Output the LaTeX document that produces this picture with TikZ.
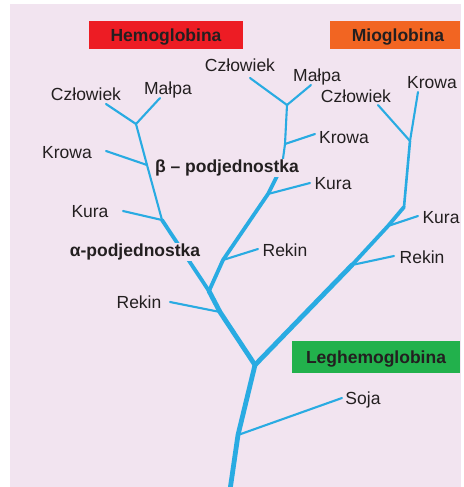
\documentclass[tikz,border=0pt]{standalone}
\usepackage{fontspec}
\setmainfont{Liberation Sans}
\begin{document}
\begin{tikzpicture}[x=1pt,y=-1pt,
  line cap=round, line join=round,
  thinb/.style={draw=treeblue, line width=2.1pt},
  midb/.style={draw=treeblue, line width=3.8pt},
  thickb/.style={draw=treeblue, line width=4.8pt},
  lbl/.style={inner sep=0pt, text height=12.5pt, text depth=0pt, text=txt,
    font=\fontsize{17.5}{20}\selectfont},
  blbl/.style={lbl, font=\fontsize{17.5}{20}\selectfont\bfseries},
  tag/.style={blbl, minimum height=#1, text depth=0pt},
]
\definecolor{treeblue}{HTML}{29ABE2}
\definecolor{bg}{HTML}{F2E4F0}
\definecolor{txt}{HTML}{231F20}
\definecolor{hemo}{HTML}{ED1C24}
\definecolor{mio}{HTML}{F26522}
\definecolor{leg}{HTML}{22B14C}
\useasboundingbox (0,0) rectangle (463,487);
\fill[bg] (10,4) rectangle (461,487);

% title boxes
\fill[hemo] (89,21) rectangle (243,49);
\node[blbl] (themo) at (166,35) {Hemoglobina};
\fill[mio] (330,21) rectangle (460,49);
\node[blbl] (tmio) at (398,35) {Mioglobina};
\fill[leg] (292,341) rectangle (460,373);
\node[blbl] (tleg) at (376,357) {Leghemoglobina};

% junctions
\coordinate (jL1) at (136,124);
\coordinate (jL2) at (147,165);
\coordinate (jL3) at (162,220);
\coordinate (jA)  at (209,291);
\coordinate (jL5) at (220,312);
\coordinate (jRoot) at (255,365);
\coordinate (jM1) at (287,105);
\coordinate (jM2) at (285,144);
\coordinate (jMb) at (282,166);
\coordinate (jM3) at (268,194);
\coordinate (jM4) at (223,260);
\coordinate (jR1) at (410,141);
\coordinate (jR2) at (404,207);
\coordinate (jR3) at (388,226);
\coordinate (jR4) at (352,265);
\coordinate (jS)  at (238,435);
\coordinate (bot) at (230,490);

% leaf ends
\coordinate (eLC) at (106,104);
\coordinate (eLM) at (160,98);
\coordinate (eLK) at (106,151);
\coordinate (eLKu) at (123,211);
\coordinate (eLR) at (170,302);
\coordinate (eMC) at (250,78);
\coordinate (eMM) at (311,85);
\coordinate (eMK) at (315,134);
\coordinate (eMKu) at (310,183);
\coordinate (eMR) at (258,249);
\coordinate (eRC) at (378,105);
\coordinate (eRK) at (418,92);
\coordinate (eRKu) at (418,216);
\coordinate (eRR) at (394,256);
\coordinate (eS) at (342,398);

% thin branches
\draw[thinb] (eLC) -- (jL1);
\draw[thinb] (eLM) -- (jL1);
\draw[thinb] (jL1) -- (jL2) -- (jL3);
\draw[thinb] (eLK) -- (jL2);
\draw[thinb] (eLKu) -- (jL3);
\draw[thinb] (eLR) -- (jL5);
\draw[thinb] (eMC) -- (jM1);
\draw[thinb] (eMM) -- (jM1);
\draw[thinb] (jM1) -- (jM2) -- (jMb);
\draw[thinb] (eMK) -- (jM2);
\draw[thinb] (eMKu) -- (jM3);
\draw[thinb] (eMR) -- (jM4);
\draw[thinb] (eRC) -- (jR1);
\draw[thinb] (eRK) -- (jR1);
\draw[draw=treeblue, line width=2.6pt] (jR1) -- (jR2);
\draw[thinb] (eRKu) -- (jR3);
\draw[thinb] (eRR) -- (jR4);
\draw[thinb] (eS) -- (jS);

% thick branches
\draw[midb] (jL3) -- (jA);
\draw[midb] (jMb) -- (jM3) -- (jM4) -- (jA);
\draw[thickb] (jA) -- (jL5) -- (jRoot);
\draw[midb] (jR2) -- (jR3) -- (jR4);
\draw[thickb] (jR4) -- (jRoot);
\draw[thickb] (jRoot) -- (jS) -- (bot);

% labels
\node[lbl] (lLC) at (86,94) {Człowiek};
\node[lbl] (lLM) at (168,88) {Małpa};
\node[lbl] (lLK) at (67,152) {Krowa};
\node[lbl] (lLKu) at (90,211) {Kura};
\node[lbl] (lLR) at (139,302) {Rekin};
\node[lbl] (lMC) at (240,65) {Człowiek};
\node[lbl] (lMM) at (317,75) {Małpa};
\node[lbl] (lMK) at (344,137) {Krowa};
\node[lbl] (lMKu) at (333,183) {Kura};
\node[lbl] (lMR) at (285,250) {Rekin};
\node[lbl] (lRC) at (356,96) {Człowiek};
\node[lbl] (lRK) at (432,82) {Krowa};
\node[lbl] (lRKu) at (441,217) {Kura};
\node[lbl] (lRR) at (422,257) {Rekin};
\node[lbl] (lS) at (363,398) {Soja};
\node[blbl, fill=bg, inner sep=1pt, text depth=4pt] (alpha) at (135,252) {α-podjednostka};
\node[blbl, fill=bg, inner sep=1pt, text depth=4pt] (beta) at (227,168) {β – podjednostka};
\end{tikzpicture}
\end{document}
